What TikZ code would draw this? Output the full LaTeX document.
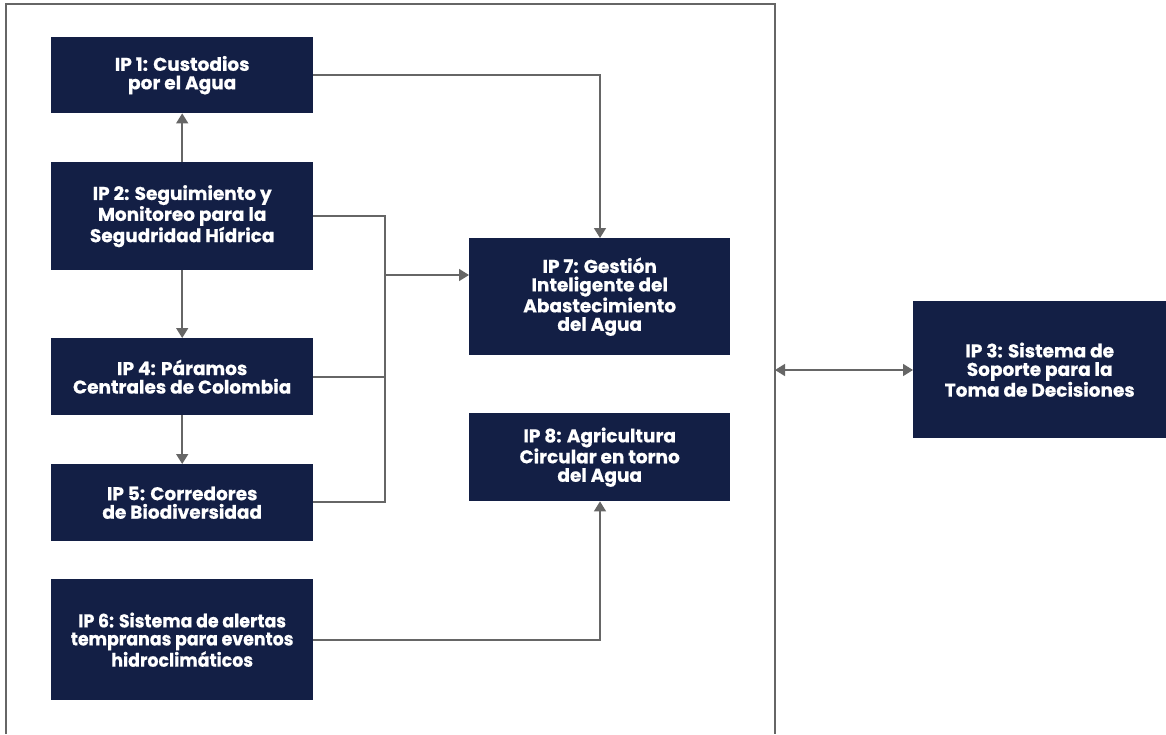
\documentclass[tikz,border=0pt]{standalone}
\usepackage{fontspec}
\setmainfont{Poppins}[BoldFont={* Bold},BoldFeatures={FakeBold=0.6}]
\newfontfamily\narrowfont{Poppins}[BoldFont={* Bold},BoldFeatures={FakeBold=0.6,FakeStretch=0.94}]
\usetikzlibrary{arrows.meta,positioning}
\definecolor{navy}{HTML}{131F45}
\definecolor{linegray}{HTML}{666666}
\tikzset{
  ipbox/.style={fill=navy, draw=none, text=white, font=\bfseries\fontsize{18.5}{18.5}\selectfont, align=center, inner sep=0pt, anchor=north west},
  conn/.style={draw=linegray, line width=1.5pt},
  arr/.style={conn, -{Triangle[length=10pt,width=12pt]}},
  darr/.style={conn, {Triangle[length=10pt,width=12pt]}-{Triangle[length=10pt,width=12pt]}},
}
\begin{document}
\begin{tikzpicture}[x=1pt,y=-1pt]
\useasboundingbox (0,0) rectangle (1166,734);
\fill[white] (0,0) rectangle (1166,734);
% frame open at bottom
\coordinate (fbl) at (6,734);
\coordinate (ftl) at (6,4);
\coordinate (ftr) at (775,4);
\coordinate (fbr) at (775,734);
\draw[conn] (fbl) -- (ftl) -- (ftr) -- (fbr);
% boxes
\node[ipbox, minimum width=262pt, minimum height=76pt] (ip1) at (51,37) {IP 1: Custodios\\por el Agua};
\node[ipbox, minimum width=262pt, minimum height=108pt] (ip2) at (51,162) {IP 2: Seguimiento y\\Monitoreo para la\\Segudridad Hídrica};
\node[ipbox, minimum width=262pt, minimum height=77pt] (ip4) at (51,338) {IP 4: Páramos\\Centrales de Colombia};
\node[ipbox, minimum width=262pt, minimum height=77pt] (ip5) at (51,464) {IP 5: Corredores\\de Biodiversidad};
\node[ipbox, minimum width=262pt, minimum height=121pt, font=\narrowfont\bfseries\fontsize{18.5}{18}\selectfont] (ip6) at (51,579) {IP 6: Sistema de alertas\\tempranas para eventos\\hidroclimáticos};
\node[ipbox, minimum width=261pt, minimum height=117pt] (ip7) at (469,238) {IP 7: Gestión\\Inteligente del\\Abastecimiento\\del Agua};
\node[ipbox, minimum width=261pt, minimum height=88pt] (ip8) at (469,413) {IP 8: Agricultura\\Circular en torno\\del Agua};
\node[ipbox, minimum width=253pt, minimum height=137pt] (ip3) at (913,301) {IP 3: Sistema de\\Soporte para la\\Toma de Decisiones};
% vertical arrows in left column
\draw[arr] (ip2.north) -- (ip1.south);
\draw[arr] (ip2.south) -- (ip4.north);
\draw[arr] (ip4.south) -- (ip5.north);
% IP1 -> IP7
\coordinate (c1) at (600,75);
\draw[arr] (ip1.east |- c1) -- (c1) -- (c1 |- ip7.north);
% bus to IP7
\coordinate (bus2) at (385,216);
\coordinate (bus4) at (385,377);
\coordinate (bus5) at (385,502);
\coordinate (busj) at (385,275);
\draw[conn] (ip2.east |- bus2) -- (bus2) -- (bus5) -- (ip5.east |- bus5);
\draw[conn] (ip4.east |- bus4) -- (bus4);
\draw[arr] (busj) -- (busj -| ip7.west);
% IP6 -> IP8
\coordinate (c6) at (600,640);
\draw[arr] (ip6.east |- c6) -- (c6) -- (c6 |- ip8.south);
% frame <-> IP3
\coordinate (c3) at (775,370);
\draw[darr] (c3) -- (c3 -| ip3.west);
\end{tikzpicture}
\end{document}
